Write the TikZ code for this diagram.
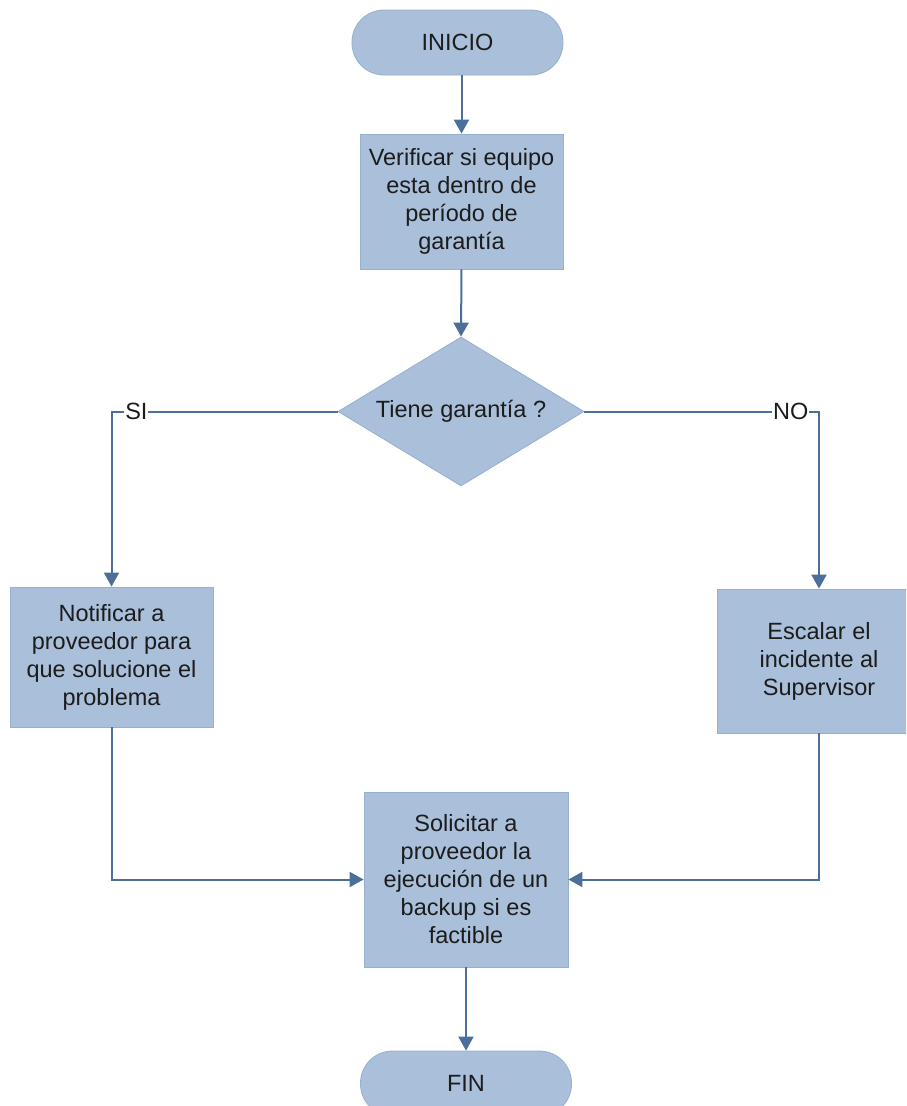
\documentclass[tikz,border=0pt]{standalone}
\usepackage{fontspec}
\setmainfont{Liberation Sans}
\usetikzlibrary{shapes.geometric,arrows.meta}
\definecolor{boxfill}{HTML}{A9BFDA}
\definecolor{boxline}{HTML}{97B0D0}
\definecolor{flowline}{HTML}{4B6E9B}
\definecolor{ink}{HTML}{1C1C1C}
\tikzset{
  base/.style={fill=boxfill, draw=boxline, line width=0.8pt, text=ink,
    font=\fontsize{23.5}{28}\selectfont, align=center, inner sep=0pt},
  terminal/.style={base, rectangle, rounded corners=32pt,
    minimum width=211pt, minimum height=65pt},
  process/.style={base, rectangle, minimum width=203pt},
  decision/.style={base, diamond, aspect=1.65,
    minimum width=246pt, minimum height=149pt},
  flow/.style={draw=flowline, line width=2pt,
    -{Triangle[width=15pt,length=14pt]}},
  branch/.style={fill=white, text=ink, inner sep=1pt,
    font=\fontsize{23.5}{28}\selectfont}
}
\begin{document}
\begin{tikzpicture}[x=1pt, y=-1pt]
  \useasboundingbox (0,0) rectangle (906,1106);
  \clip (0,0) rectangle (906,1106);

  \node[terminal] (inicio) at (457.5,42.5) {INICIO};
  \node[process, minimum height=135pt] (verif) at (461.5,201.5)
    {Verificar si equipo\\esta dentro de\\período de\\garantía};
  \node[decision] (dec) at (461,411.5) {Tiene garantía ?};
  \node[process, minimum height=140pt] (notif) at (111.5,657)
    {Notificar a\\proveedor para\\que solucione el\\problema};
  \node[process, minimum width=204pt, minimum height=144pt] (escal) at (819,661)
    {Escalar el\\incidente al\\Supervisor};
  \node[process, minimum width=204pt, minimum height=175pt] (solic) at (466,879.5)
    {Solicitar a\\proveedor la\\ejecución de un\\backup si es\\factible};
  \node[terminal] (fin) at (466,1083.5) {FIN};

  % main flow
  \draw[flow] (verif.north |- inicio.south) -- (verif.north);
  \draw[flow] (verif.south) -- (dec.north);

  % decision branches
  \draw[flow] (dec.west) -- (notif.north |- dec.west)
    node[branch, pos=0.89] {SI} -- (notif.north);
  \draw[flow] (dec.east) -- (escal.north |- dec.east)
    node[branch, pos=0.88] {NO} -- (escal.north);

  % merge into the final task
  \draw[flow] (notif.south) |- (solic.west);
  \draw[flow] (escal.south) |- (solic.east);
  \draw[flow] (solic.south) -- (fin.north);
\end{tikzpicture}
\end{document}
